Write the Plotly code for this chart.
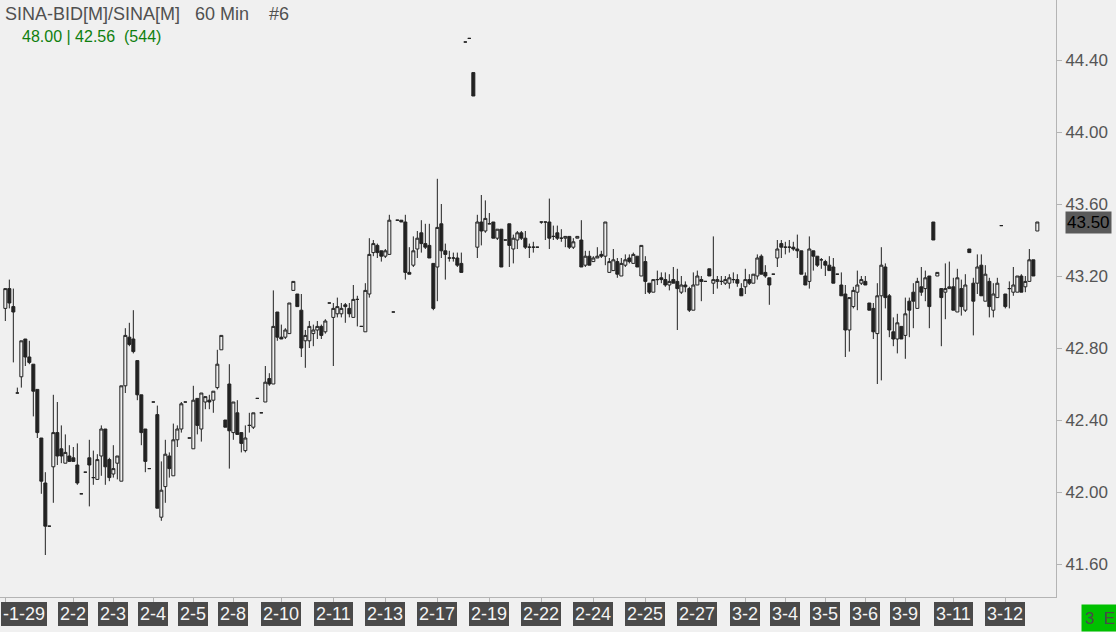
import plotly.graph_objects as go

# ---- data ----
opens = [43.02,43.13,43.03,42.55,42.64,42.85,42.75,42.71,42.57,42.30,
         42.05,41.81,42.14,42.33,42.24,42.16,42.20,42.19,42.15,41.99,
         42.11,42.19,42.08,42.07,42.20,42.35,42.18,42.10,42.16,42.06,
         42.59,42.86,42.85,42.73,42.54,42.35,42.13,42.50,42.43,41.86,
         42.03,42.20,42.09,42.29,42.35,42.50,42.30,42.24,42.52,42.35,
         42.50,42.51,42.51,42.58,42.79,42.40,42.60,42.33,42.44,42.33,
         42.23,42.37,42.36,42.52,42.44,42.50,42.63,42.60,43.00,42.86,
         42.86,42.88,43.12,43.10,43.01,42.84,42.84,42.88,42.90,42.92,
         42.89,43.05,42.97,42.99,42.99,43.04,43.02,42.97,43.07,42.92,
         42.89,43.10,43.33,43.37,43.34,43.31,43.32,43.00,43.51,43.51,
         43.50,43.22,43.26,43.35,43.44,43.38,43.37,43.27,43.25,43.49,
         43.34,43.30,43.30,43.30,43.27,44.50,44.52,44.33,43.36,43.50,
         43.45,43.49,43.50,43.41,43.46,43.40,43.49,43.35,43.40,43.44,
         43.41,43.36,43.36,43.36,43.50,43.50,43.50,43.42,43.44,43.41,
         43.41,43.42,43.36,43.41,43.40,43.26,43.31,43.28,43.30,43.32,
         43.31,43.22,43.23,43.28,43.20,43.26,43.30,43.27,43.31,43.20,
         43.28,43.16,43.11,43.18,43.19,43.18,43.15,43.18,43.17,43.11,
         43.15,43.13,43.01,43.15,43.18,43.17,43.24,43.16,43.17,43.17,
         43.16,43.16,43.18,43.18,43.13,43.14,43.18,43.16,43.20,43.31,
         43.22,43.19,43.21,43.30,43.38,43.36,43.36,43.36,43.35,43.34,
         43.20,43.17,43.34,43.31,43.29,43.28,43.26,43.25,43.21,43.15,
         43.10,42.90,43.03,43.11,43.16,43.17,43.05,43.02,42.88,43.09,
         43.25,43.09,42.89,42.85,42.92,42.87,43.06,43.11,43.02,43.14,
         43.13,43.20,43.50,43.20,43.13,43.11,43.13,43.14,43.00,43.13,
         43.01,43.35,43.16,43.16,43.26,43.06,43.17,43.01,43.08,43.48,
         43.10,43.13,43.11,43.11,43.20,43.14,43.17,43.29,43.45]
highs = [43.13,43.18,43.13,42.58,42.84,42.85,42.84,42.71,42.57,42.30,
         42.11,41.81,42.54,42.50,42.37,42.32,42.26,42.25,42.27,41.99,
         42.11,42.29,42.23,42.21,42.37,42.35,42.19,42.26,42.20,42.59,
         42.91,42.94,43.01,42.73,42.54,42.35,42.13,42.50,42.48,42.17,
         42.29,42.22,42.38,42.37,42.50,42.50,42.30,42.59,42.52,42.55,
         42.53,42.54,42.56,42.79,42.87,42.40,42.71,42.50,42.51,42.33,
         42.37,42.44,42.44,42.52,42.44,42.70,42.66,43.12,43.00,42.93,
         42.91,43.05,43.17,43.10,43.10,42.90,42.95,42.93,42.95,42.93,
         42.96,43.05,43.05,43.08,43.05,43.05,43.05,43.15,43.09,42.92,
         43.16,43.41,43.40,43.38,43.34,43.35,43.54,43.00,43.51,43.51,
         43.54,43.36,43.42,43.45,43.51,43.49,43.49,43.27,43.74,43.60,
         43.38,43.34,43.33,43.33,43.33,44.50,44.52,44.33,43.54,43.65,
         43.62,43.55,43.50,43.46,43.46,43.40,43.49,43.43,43.45,43.45,
         43.45,43.38,43.39,43.36,43.50,43.50,43.63,43.48,43.48,43.46,
         43.42,43.42,43.41,43.42,43.51,43.34,43.34,43.31,43.36,43.34,
         43.50,43.30,43.35,43.30,43.30,43.32,43.32,43.33,43.31,43.37,
         43.31,43.16,43.18,43.23,43.22,43.22,43.21,43.25,43.24,43.20,
         43.17,43.14,43.22,43.23,43.20,43.17,43.24,43.42,43.20,43.20,
         43.20,43.21,43.22,43.21,43.16,43.24,43.21,43.21,43.32,43.32,
         43.26,43.19,43.21,43.40,43.40,43.39,43.40,43.39,43.43,43.34,
         43.22,43.42,43.34,43.31,43.30,43.29,43.31,43.30,43.21,43.22,
         43.15,43.08,43.14,43.23,43.20,43.20,43.05,43.05,43.16,43.36,
         43.27,43.10,42.97,42.99,42.92,43.08,43.08,43.16,43.19,43.25,
         43.23,43.20,43.50,43.22,43.13,43.27,43.28,43.19,43.24,43.18,
         43.21,43.35,43.19,43.32,43.32,43.26,43.19,43.16,43.19,43.48,
         43.10,43.17,43.25,43.20,43.21,43.20,43.35,43.29,43.50]
lows = [42.95,43.02,42.72,42.55,42.58,42.70,42.71,42.42,42.30,41.99,
        41.65,41.81,41.94,42.15,42.16,42.16,42.17,42.17,42.04,41.99,
        42.11,41.92,42.04,42.07,42.09,42.04,42.06,42.08,42.07,42.06,
        42.55,42.81,42.77,42.51,42.26,42.11,42.13,42.50,41.91,41.84,
        41.94,42.08,42.09,42.25,42.33,42.50,42.30,42.24,42.32,42.28,
        42.46,42.46,42.44,42.57,42.79,42.36,42.13,42.29,42.32,42.22,
        42.22,42.33,42.35,42.52,42.44,42.50,42.59,42.60,42.84,42.85,
        42.85,42.88,43.12,43.03,42.75,42.69,42.80,42.81,42.85,42.85,
        42.88,43.05,42.70,42.97,42.97,42.94,42.97,42.97,42.92,42.92,
        42.89,43.08,43.31,43.30,43.28,43.30,43.32,43.00,43.51,43.50,
        43.18,43.21,43.25,43.30,43.33,43.35,43.30,43.01,43.06,43.30,
        43.18,43.28,43.28,43.25,43.22,44.50,44.52,44.20,43.30,43.37,
        43.44,43.49,43.41,43.40,43.25,43.40,43.25,43.27,43.35,43.40,
        43.35,43.30,43.33,43.36,43.49,43.40,43.35,43.40,43.40,43.39,
        43.36,43.35,43.35,43.41,43.25,43.25,43.26,43.28,43.30,43.30,
        43.26,43.22,43.23,43.19,43.20,43.25,43.27,43.27,43.25,43.20,
        43.10,43.10,43.11,43.15,43.16,43.14,43.12,43.16,42.90,43.10,
        43.11,43.00,43.01,43.15,43.06,43.17,43.20,43.10,43.13,43.15,
        43.15,43.13,43.16,43.14,43.09,43.10,43.15,43.16,43.18,43.21,
        43.19,43.04,43.21,43.25,43.30,43.32,43.33,43.34,43.30,43.21,
        43.15,43.13,43.23,43.25,43.24,43.20,43.23,43.16,43.21,43.09,
        42.75,42.78,43.02,43.01,43.15,43.15,43.01,42.85,42.60,42.62,
        43.02,42.86,42.81,42.77,42.85,42.74,42.86,42.91,43.02,43.09,
        43.06,42.91,43.40,43.20,42.81,42.96,43.13,43.01,43.00,42.98,
        43.00,43.33,42.87,43.10,43.09,43.06,42.97,42.97,43.08,43.48,
        43.02,43.02,43.09,43.11,43.11,43.11,43.17,43.20,43.45]
closes = [43.13,43.05,43.00,42.55,42.84,42.75,42.72,42.56,42.33,42.06,
          41.81,41.81,42.33,42.20,42.20,42.22,42.17,42.17,42.05,41.99,
          42.11,42.15,42.08,42.18,42.35,42.14,42.08,42.13,42.20,42.59,
          42.87,42.82,42.78,42.54,42.33,42.17,42.13,42.50,41.91,42.01,
          42.21,42.13,42.29,42.35,42.49,42.50,42.30,42.51,42.37,42.55,
          42.53,42.50,42.56,42.71,42.87,42.36,42.34,42.50,42.32,42.27,
          42.30,42.37,42.44,42.52,42.44,42.61,42.60,42.92,42.86,42.85,
          42.90,43.05,43.17,43.03,42.80,42.87,42.92,42.90,42.92,42.87,
          42.95,43.05,43.02,43.03,43.02,43.03,42.99,43.07,43.07,42.92,
          43.12,43.32,43.38,43.33,43.31,43.34,43.51,43.00,43.51,43.50,
          43.22,43.21,43.34,43.41,43.38,43.36,43.30,43.02,43.47,43.34,
          43.32,43.30,43.30,43.26,43.22,44.50,44.52,44.20,43.50,43.45,
          43.52,43.49,43.41,43.46,43.25,43.40,43.37,43.41,43.44,43.41,
          43.36,43.36,43.36,43.36,43.50,43.50,43.41,43.42,43.41,43.41,
          43.42,43.36,43.39,43.42,43.25,43.31,43.26,43.30,43.31,43.31,
          43.50,43.28,43.29,43.21,43.27,43.29,43.28,43.32,43.25,43.37,
          43.17,43.11,43.18,43.18,43.18,43.15,43.17,43.16,43.13,43.15,
          43.14,43.01,43.15,43.20,43.17,43.17,43.20,43.18,43.18,43.17,
          43.18,43.19,43.18,43.16,43.09,43.18,43.16,43.21,43.30,43.21,
          43.20,43.15,43.21,43.35,43.36,43.36,43.36,43.35,43.34,43.21,
          43.15,43.35,43.31,43.26,43.29,43.26,43.23,43.16,43.21,43.09,
          42.90,43.08,43.12,43.15,43.18,43.15,43.01,42.89,43.09,43.26,
          43.08,42.90,42.85,42.94,42.85,42.99,43.01,43.06,43.17,43.11,
          43.19,43.03,43.40,43.22,43.08,43.13,43.14,43.01,43.19,43.03,
          43.15,43.33,43.06,43.25,43.09,43.21,43.03,43.10,43.16,43.48,
          43.03,43.13,43.15,43.20,43.11,43.17,43.29,43.20,43.50]

date_tick_bars = [0, 17, 27, 37, 47, 57, 69, 82, 95, 108, 121, 134,
                  147, 160, 173, 185, 195, 205, 215, 225, 237, 250]
date_tick_labels = ["-1-29", "2-2", "2-3", "2-4", "2-5", "2-8", "2-10", "2-11",
                    "2-13", "2-17", "2-19", "2-22", "2-24", "2-25", "2-27",
                    "3-2", "3-4", "3-5", "3-6", "3-9", "3-11", "3-12"]
price_ticks = [41.6, 42.0, 42.4, 42.8, 43.2, 43.6, 44.0, 44.4]
last_price = 43.50

bars = list(range(len(opens)))

BG = "#f0f0f0"
INK = "#222222"
AXIS = "#b4b4b4"

W, H = 1116, 632
ML, MR, MT, MB = 0, 60, 0, 35
PW = W - ML - MR
PH = H - MT - MB

fig = go.Figure(go.Candlestick(
    x=bars, open=opens, high=highs, low=lows, close=closes,
    increasing=dict(line=dict(color=INK, width=1), fillcolor=BG),
    decreasing=dict(line=dict(color=INK, width=1), fillcolor=INK),
    whiskerwidth=0, hoverinfo="skip", showlegend=False,
))

annotations = []
# date labels on the time axis
for b, lab in zip(date_tick_bars, date_tick_labels):
    if b == 0:
        annotations.append(dict(
            x=1 / PW, xref="paper", xanchor="left",
            y=0, yref="paper", yanchor="top", yshift=-5,
            text=lab, showarrow=False,
            font=dict(family="Liberation Sans", size=18, color="#f4f4f4"),
            bgcolor="#4a4a4a", bordercolor="#4a4a4a", borderwidth=1, borderpad=1))
    else:
        annotations.append(dict(
            x=b, xref="x", xanchor="center",
            y=0, yref="paper", yanchor="top", yshift=-5,
            text=lab, showarrow=False,
            font=dict(family="Liberation Sans", size=18, color="#f4f4f4"),
            bgcolor="#4a4a4a", bordercolor="#4a4a4a", borderwidth=1, borderpad=1))

# last price marker on the price axis
annotations.append(dict(
    x=1, xref="paper", xanchor="left", xshift=9,
    y=last_price, yref="y", yanchor="middle",
    text=f"{last_price:.2f}", showarrow=False,
    font=dict(family="Liberation Sans", size=17, color="#000000"),
    bgcolor="#5a5a5a", borderpad=1))

# title lines
annotations.append(dict(
    x=3 / PW, xref="paper", xanchor="left",
    y=1 - 13.5 / PH, yref="paper", yanchor="middle",
    text="SINA-BID[M]/SINA[M]\u00a0\u00a0 60 Min\u00a0\u00a0\u00a0 #6", showarrow=False,
    font=dict(family="Liberation Sans", size=18, color="#505050")))
annotations.append(dict(
    x=20 / PW, xref="paper", xanchor="left",
    y=1 - 36.5 / PH, yref="paper", yanchor="middle",
    text="48.00 | 42.56\u00a0\u00a0(544)", showarrow=False,
    font=dict(family="Liberation Sans", size=16, color="#0f7f0f")))

# green status box bottom-right
annotations.append(dict(
    x=(1081 - ML) / PW, xref="paper", xanchor="left",
    y=1 - (632 - MT) / PH, yref="paper", yanchor="bottom",
    width=36, height=26,
    text="3\u00a0\u00a0E", showarrow=False, align="center",
    font=dict(family="Liberation Sans", size=17, color="#4a4a4a"),
    bgcolor="#00c000", borderpad=0))

fig.update_layout(
    width=W, height=H,
    margin=dict(l=ML, r=MR, t=MT, b=MB, pad=0),
    paper_bgcolor=BG, plot_bgcolor=BG,
    boxgap=0.25, boxgroupgap=0,
    annotations=annotations,
    xaxis=dict(
        range=[-1.333, (PW - 5.333) / 4],
        rangeslider=dict(visible=False),
        showgrid=False, zeroline=False,
        showline=True, linecolor=AXIS, linewidth=1, mirror=False,
        tickmode="array", tickvals=date_tick_bars, ticktext=[""] * len(date_tick_bars),
        ticks="outside", ticklen=5, tickcolor=AXIS, showticklabels=False,
        fixedrange=True,
    ),
    yaxis=dict(
        side="right",
        range=[44.0 - (PH - 132) / 180.0, 44.0 + 132 / 180.0],
        showgrid=False, zeroline=False,
        showline=True, linecolor=AXIS, linewidth=1, mirror=True,
        tickmode="array", tickvals=price_ticks,
        ticktext=[f"{v:.2f}" for v in price_ticks],
        ticks="outside", ticklen=5, tickcolor=AXIS,
        tickfont=dict(family="Liberation Sans", size=17, color="#555555"),
        fixedrange=True,
    ),
)

fig.write_html(
    "out.html",
    config={"displayModeBar": False, "staticPlot": True},
    post_script="document.body.style.margin='0';document.body.style.background='#f0f0f0';document.body.style.overflow='hidden';",
)
